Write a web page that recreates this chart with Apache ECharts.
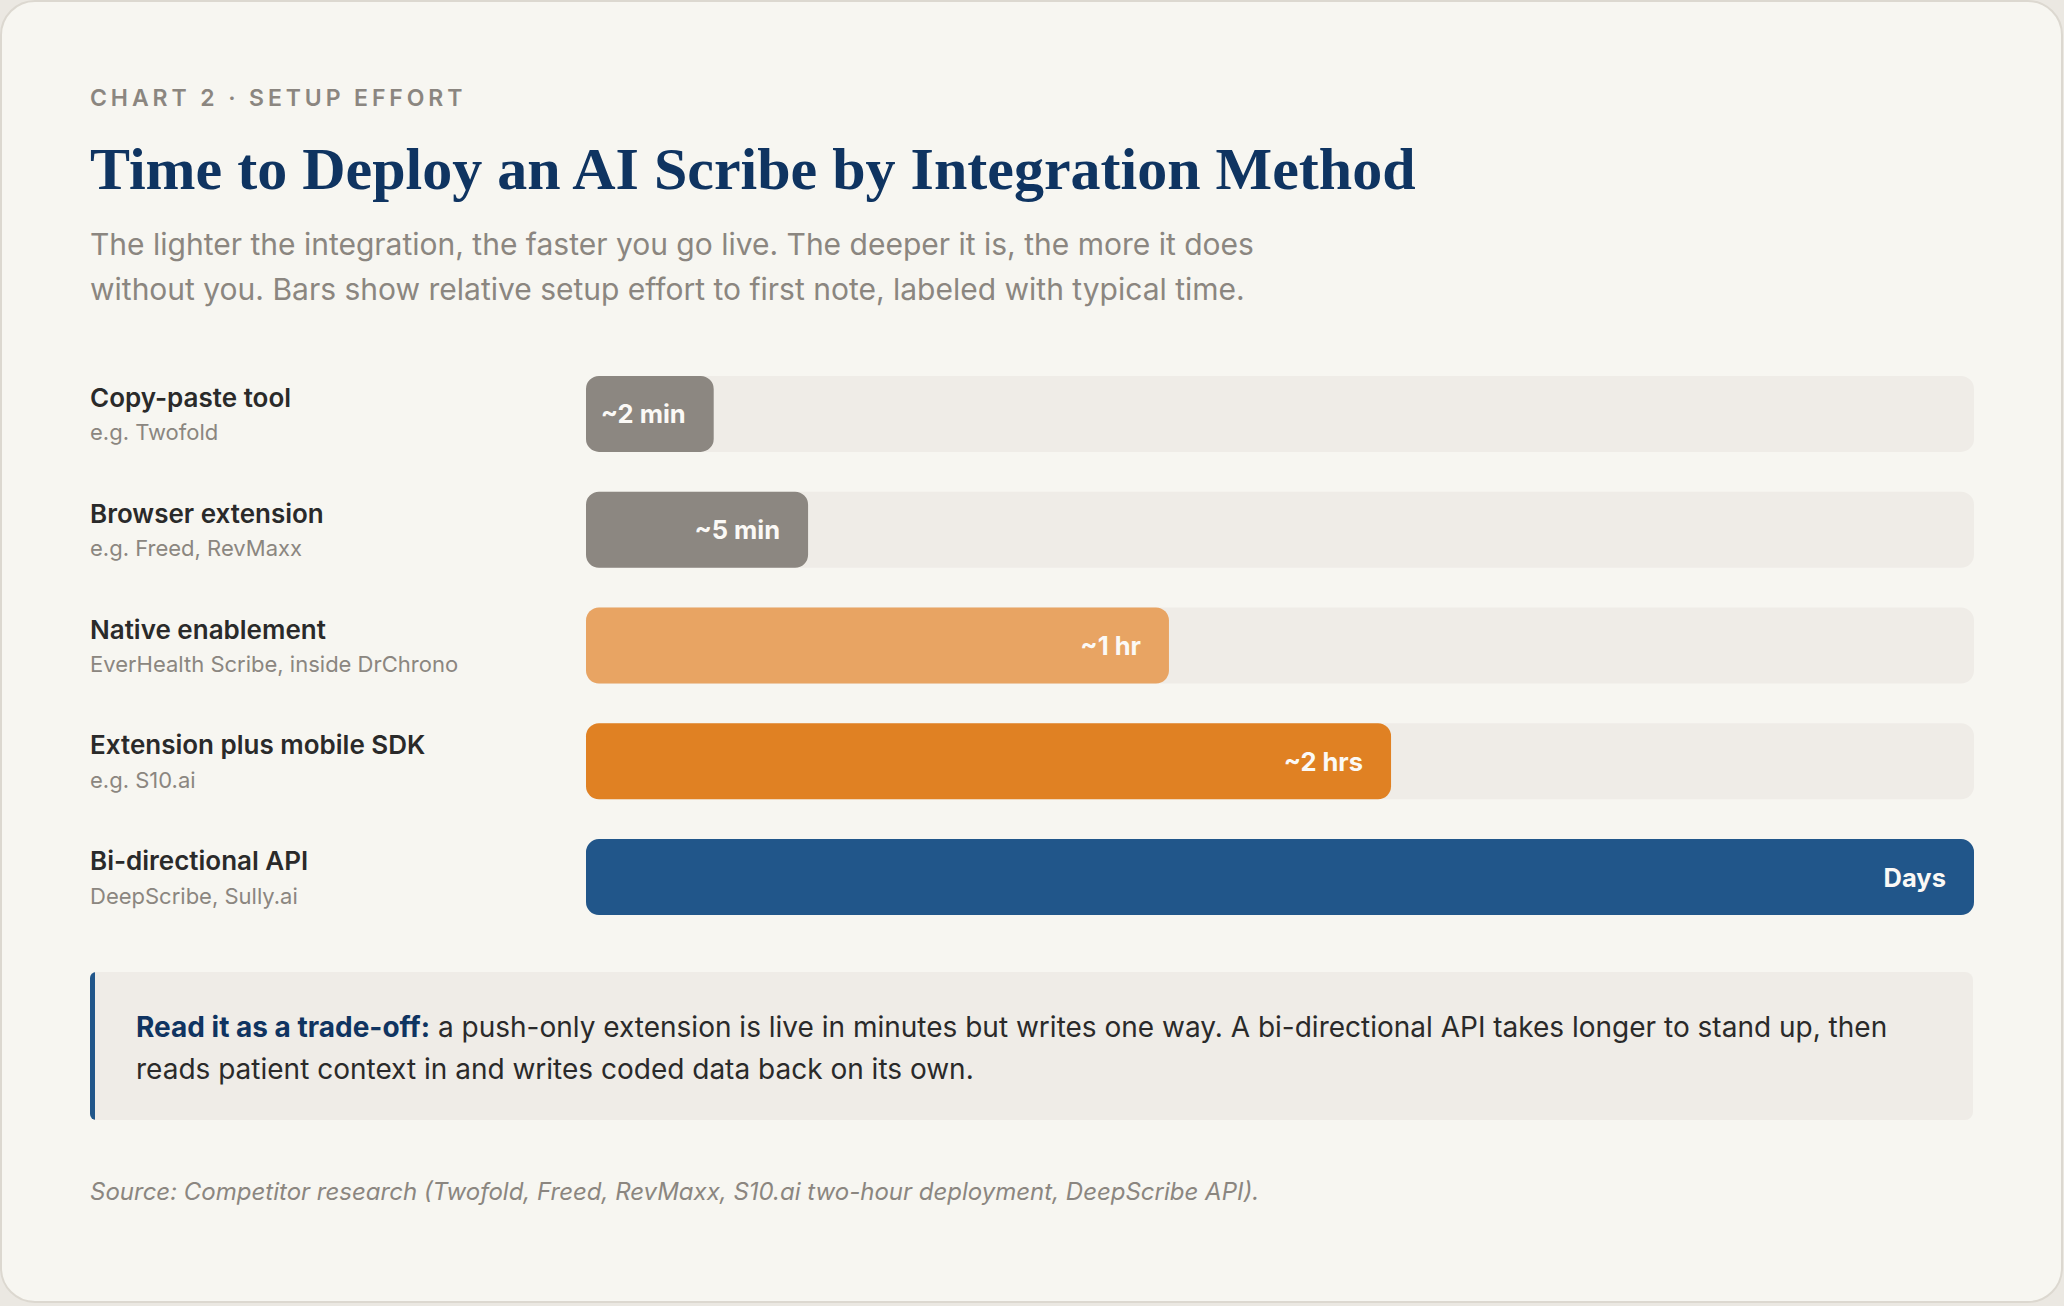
<!DOCTYPE html>
<html lang="en">
<head>
    <meta charset="utf-8">
    <title>Time to Deploy an AI Scribe by Integration Method</title>
    <script src="https://cdn.jsdelivr.net/npm/echarts@6/dist/echarts.min.js"></script>
    <style>
        html, body { margin: 0; padding: 0; background: #ebe8e2; }
        #chart { width: 2064px; height: 1306px; }
    </style>
</head>
<body>
<div id="chart"></div>
<script>
    // data
    var methods = ['Copy-paste tool', 'Browser extension', 'Native enablement', 'Extension plus mobile SDK', 'Bi-directional API'];
    var examples = ['e.g. Twofold', 'e.g. Freed, RevMaxx', 'EverHealth Scribe, inside DrChrono', 'e.g. S10.ai', 'DeepScribe, Sully.ai'];
    var effort = [9.2, 16, 42, 58, 100];
    var timeLabels = ['~2 min', '~5 min', '~1 hr', '~2 hrs', 'Days'];

    // styling
    var barColors = ['#8c8781', '#8c8781', '#e8a463', '#e08123', '#21568a'];
    var SANS = 'Inter, "Noto Sans", sans-serif';
    var SERIF = '"Liberation Serif", "DejaVu Serif", serif';
    var EYEBROW = 'CHART 2 \u00b7 SETUP EFFORT';

    var chartDom = document.getElementById('chart');
    // svg so the eyebrow can get letter-spacing afterwards
    var myChart = echarts.init(chartDom, null, { renderer: 'svg' });
    var option;

    option = {
        animation: false,
        textStyle: { fontFamily: SANS },
        grid: {
            left: 586,
            right: 90,
            top: 356,
            height: 579
        },
        xAxis: {
            type: 'value',
            min: 0,
            max: 100,
            show: false
        },
        yAxis: {
            type: 'category',
            inverse: true,
            data: methods,
            axisLine: { show: false },
            axisTick: { show: false },
            axisLabel: {
                align: 'left',
                margin: 496,
                padding: [2, 0, 0, 0],
                formatter: function (value, idx) {
                    return '{name|' + value + '}\n{ex|' + examples[idx] + '}';
                },
                rich: {
                    name: { fontFamily: SANS, fontSize: 26, fontWeight: 600, color: '#2a2a2a', lineHeight: 35 },
                    ex: { fontFamily: SANS, fontSize: 22, color: '#8b8680', lineHeight: 35 }
                }
            }
        },
        series: [
            {
                type: 'bar',
                data: effort,
                barWidth: 76,
                showBackground: true,
                backgroundStyle: { color: '#efece7', borderRadius: 13 },
                itemStyle: {
                    borderRadius: 13,
                    color: function (p) { return barColors[p.dataIndex]; }
                },
                label: {
                    show: true,
                    position: 'insideRight',
                    distance: 28,
                    fontFamily: SANS,
                    fontSize: 25.5,
                    fontWeight: 700,
                    color: '#fbf9f6',
                    formatter: function (p) { return timeLabels[p.dataIndex]; }
                }
            }
        ],
        graphic: [
            // card
            { type: 'rect', z: -10, shape: { x: 1, y: 1, width: 2061, height: 1301, r: 34 },
              style: { fill: '#f7f6f1', stroke: '#dcd8d0', lineWidth: 2 } },
            // eyebrow, title, subtitle
            { type: 'text', style: { x: 90, y: 98, text: EYEBROW, textVerticalAlign: 'middle',
              font: '600 23px ' + SANS, fill: '#8b8680' } },
            { type: 'text', style: { x: 90, y: 169, text: 'Time to Deploy an AI Scribe by Integration Method', textVerticalAlign: 'middle',
              font: 'bold 60px ' + SERIF, fill: '#0f3461' } },
            { type: 'text', style: { x: 90, y: 244, text: 'The lighter the integration, the faster you go live. The deeper it is, the more it does', textVerticalAlign: 'middle',
              font: '30px ' + SANS, fill: '#8b8680' } },
            { type: 'text', style: { x: 90, y: 289, text: 'without you. Bars show relative setup effort to first note, labeled with typical time.', textVerticalAlign: 'middle',
              font: '30px ' + SANS, fill: '#8b8680' } },
            // callout box
            { type: 'rect', shape: { x: 90, y: 972, width: 30, height: 148, r: 6 }, style: { fill: '#21568a' } },
            { type: 'rect', shape: { x: 95, y: 972, width: 1878, height: 148, r: [0, 8, 8, 0] }, style: { fill: '#efece7' } },
            { type: 'text', style: {
                x: 136, y: 1047.5, textVerticalAlign: 'middle',
                text: '{b|Read it as a trade-off:} a push-only extension is live in minutes but writes one way. A bi-directional API takes longer to stand up, then\nreads patient context in and writes coded data back on its own.',
                font: '28px ' + SANS, fill: '#2a2a2a', lineHeight: 42,
                rich: { b: { fontFamily: SANS, fontSize: 28, fontWeight: 700, fill: '#0f3461', lineHeight: 42 } }
            } },
            // source
            { type: 'text', style: { x: 90, y: 1191.5, text: 'Source: Competitor research (Twofold, Freed, RevMaxx, S10.ai two-hour deployment, DeepScribe API).', textVerticalAlign: 'middle',
              font: 'italic 24px ' + SANS, fill: '#8b8680' } }
        ]
    };

    myChart.setOption(option);

    // tracked-out eyebrow
    var texts = chartDom.querySelectorAll('text');
    for (var i = 0; i < texts.length; i++) {
        if (texts[i].textContent === EYEBROW) {
            texts[i].setAttribute('letter-spacing', '3.9');
        }
    }
</script>
</body>
</html>
